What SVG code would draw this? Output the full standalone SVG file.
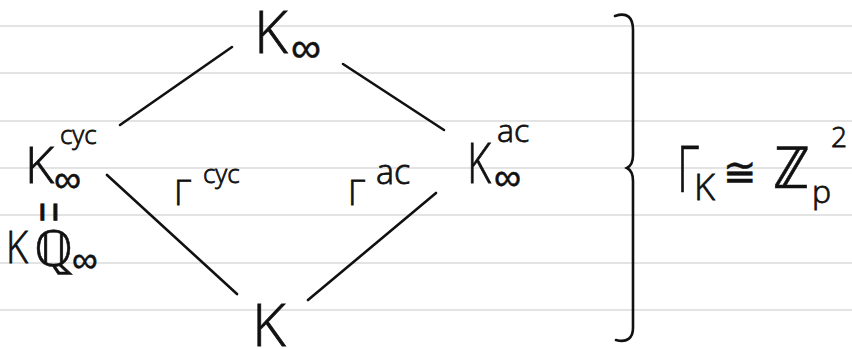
<svg xmlns="http://www.w3.org/2000/svg" width="852" height="349" viewBox="0 0 852 349">
<style>
.rule{stroke:#dadada;stroke-width:1.6}
.ink{fill:#111;stroke:#111;stroke-width:0.8;font-family:"Open Sans","DejaVu Sans",sans-serif;font-weight:300}
.math{fill:#111;stroke:#111;stroke-width:0.5;font-family:"DejaVu Sans",sans-serif;font-weight:300}
.edge{stroke:#111;stroke-width:2.6;stroke-linecap:round;fill:none}
</style>
<rect width="852" height="349" fill="#fff"/>
<g id="rules">
<line class="rule" x1="0" y1="26" x2="852" y2="26"/>
<line class="rule" x1="0" y1="73" x2="852" y2="73"/>
<line class="rule" x1="0" y1="121" x2="852" y2="121"/>
<line class="rule" x1="0" y1="168" x2="852" y2="168"/>
<line class="rule" x1="0" y1="215" x2="852" y2="215"/>
<line class="rule" x1="0" y1="263" x2="852" y2="263"/>
<line class="rule" x1="0" y1="310" x2="852" y2="310"/>
</g>
<g id="connectors">
<line class="edge" x1="120" y1="125" x2="232" y2="47"/>
<line class="edge" x1="343" y1="64" x2="444" y2="130"/>
<line class="edge" x1="107" y1="175" x2="237" y2="294"/>
<line class="edge" x1="308" y1="300" x2="436" y2="193"/>
</g>
<g id="node-top">
<text class="ink" x="254" y="53" font-size="58">K</text>
<text class="math" x="291" y="62" font-size="42">∞</text>
</g>
<g id="node-left">
<text class="ink" x="25" y="183" font-size="50">K</text>
<text class="ink" x="60" y="144" font-size="26">cyc</text>
<text class="math" x="54" y="192" font-size="38">∞</text>
<text class="ink" x="0" y="15" font-size="40" text-anchor="middle" stroke-width="0.3" transform="translate(50 212) rotate(90) scale(0.9 1.6)">=</text>
<text class="ink" x="6" y="263" font-size="44" textLength="22" lengthAdjust="spacingAndGlyphs">K</text>
<text class="math" x="34" y="266" font-size="50">ℚ</text>
<text class="math" x="72" y="272" font-size="36">∞</text>
</g>
<g id="node-right">
<text class="ink" x="467" y="183" font-size="56" textLength="24" lengthAdjust="spacingAndGlyphs">K</text>
<text class="ink" x="497" y="142" font-size="32">ac</text>
<text class="math" x="494" y="190" font-size="38">∞</text>
</g>
<g id="node-bottom">
<text class="ink" x="252" y="346" font-size="58">K</text>
</g>
<g id="label-gamma-cyc">
<text class="ink" x="174" y="205" font-size="34">Γ</text>
<text class="ink" x="203" y="183" font-size="26">cyc</text>
</g>
<g id="label-gamma-ac">
<text class="ink" x="348" y="205" font-size="34">Γ</text>
<text class="ink" x="376" y="184" font-size="34">ac</text>
</g>
<g id="brace">
<path class="edge" d="M615,16 C627,12 633,17 633,30 L633,155 C633,163 631,166 627,168 C631,170 633,173 633,181 L633,328 C633,338 627,343 616,340"/>
</g>
<g id="label-group">
<text class="ink" x="677" y="192" font-size="64" textLength="22" lengthAdjust="spacingAndGlyphs">Γ</text>
<text class="ink" x="694" y="200" font-size="36">K</text>
<text class="math" x="723" y="186" font-size="40">≅</text>
<text class="math" x="773" y="188" font-size="58">ℤ</text>
<text class="ink" x="812" y="203" font-size="32">p</text>
<text class="ink" x="831" y="147" font-size="28">2</text>
</g>
</svg>
